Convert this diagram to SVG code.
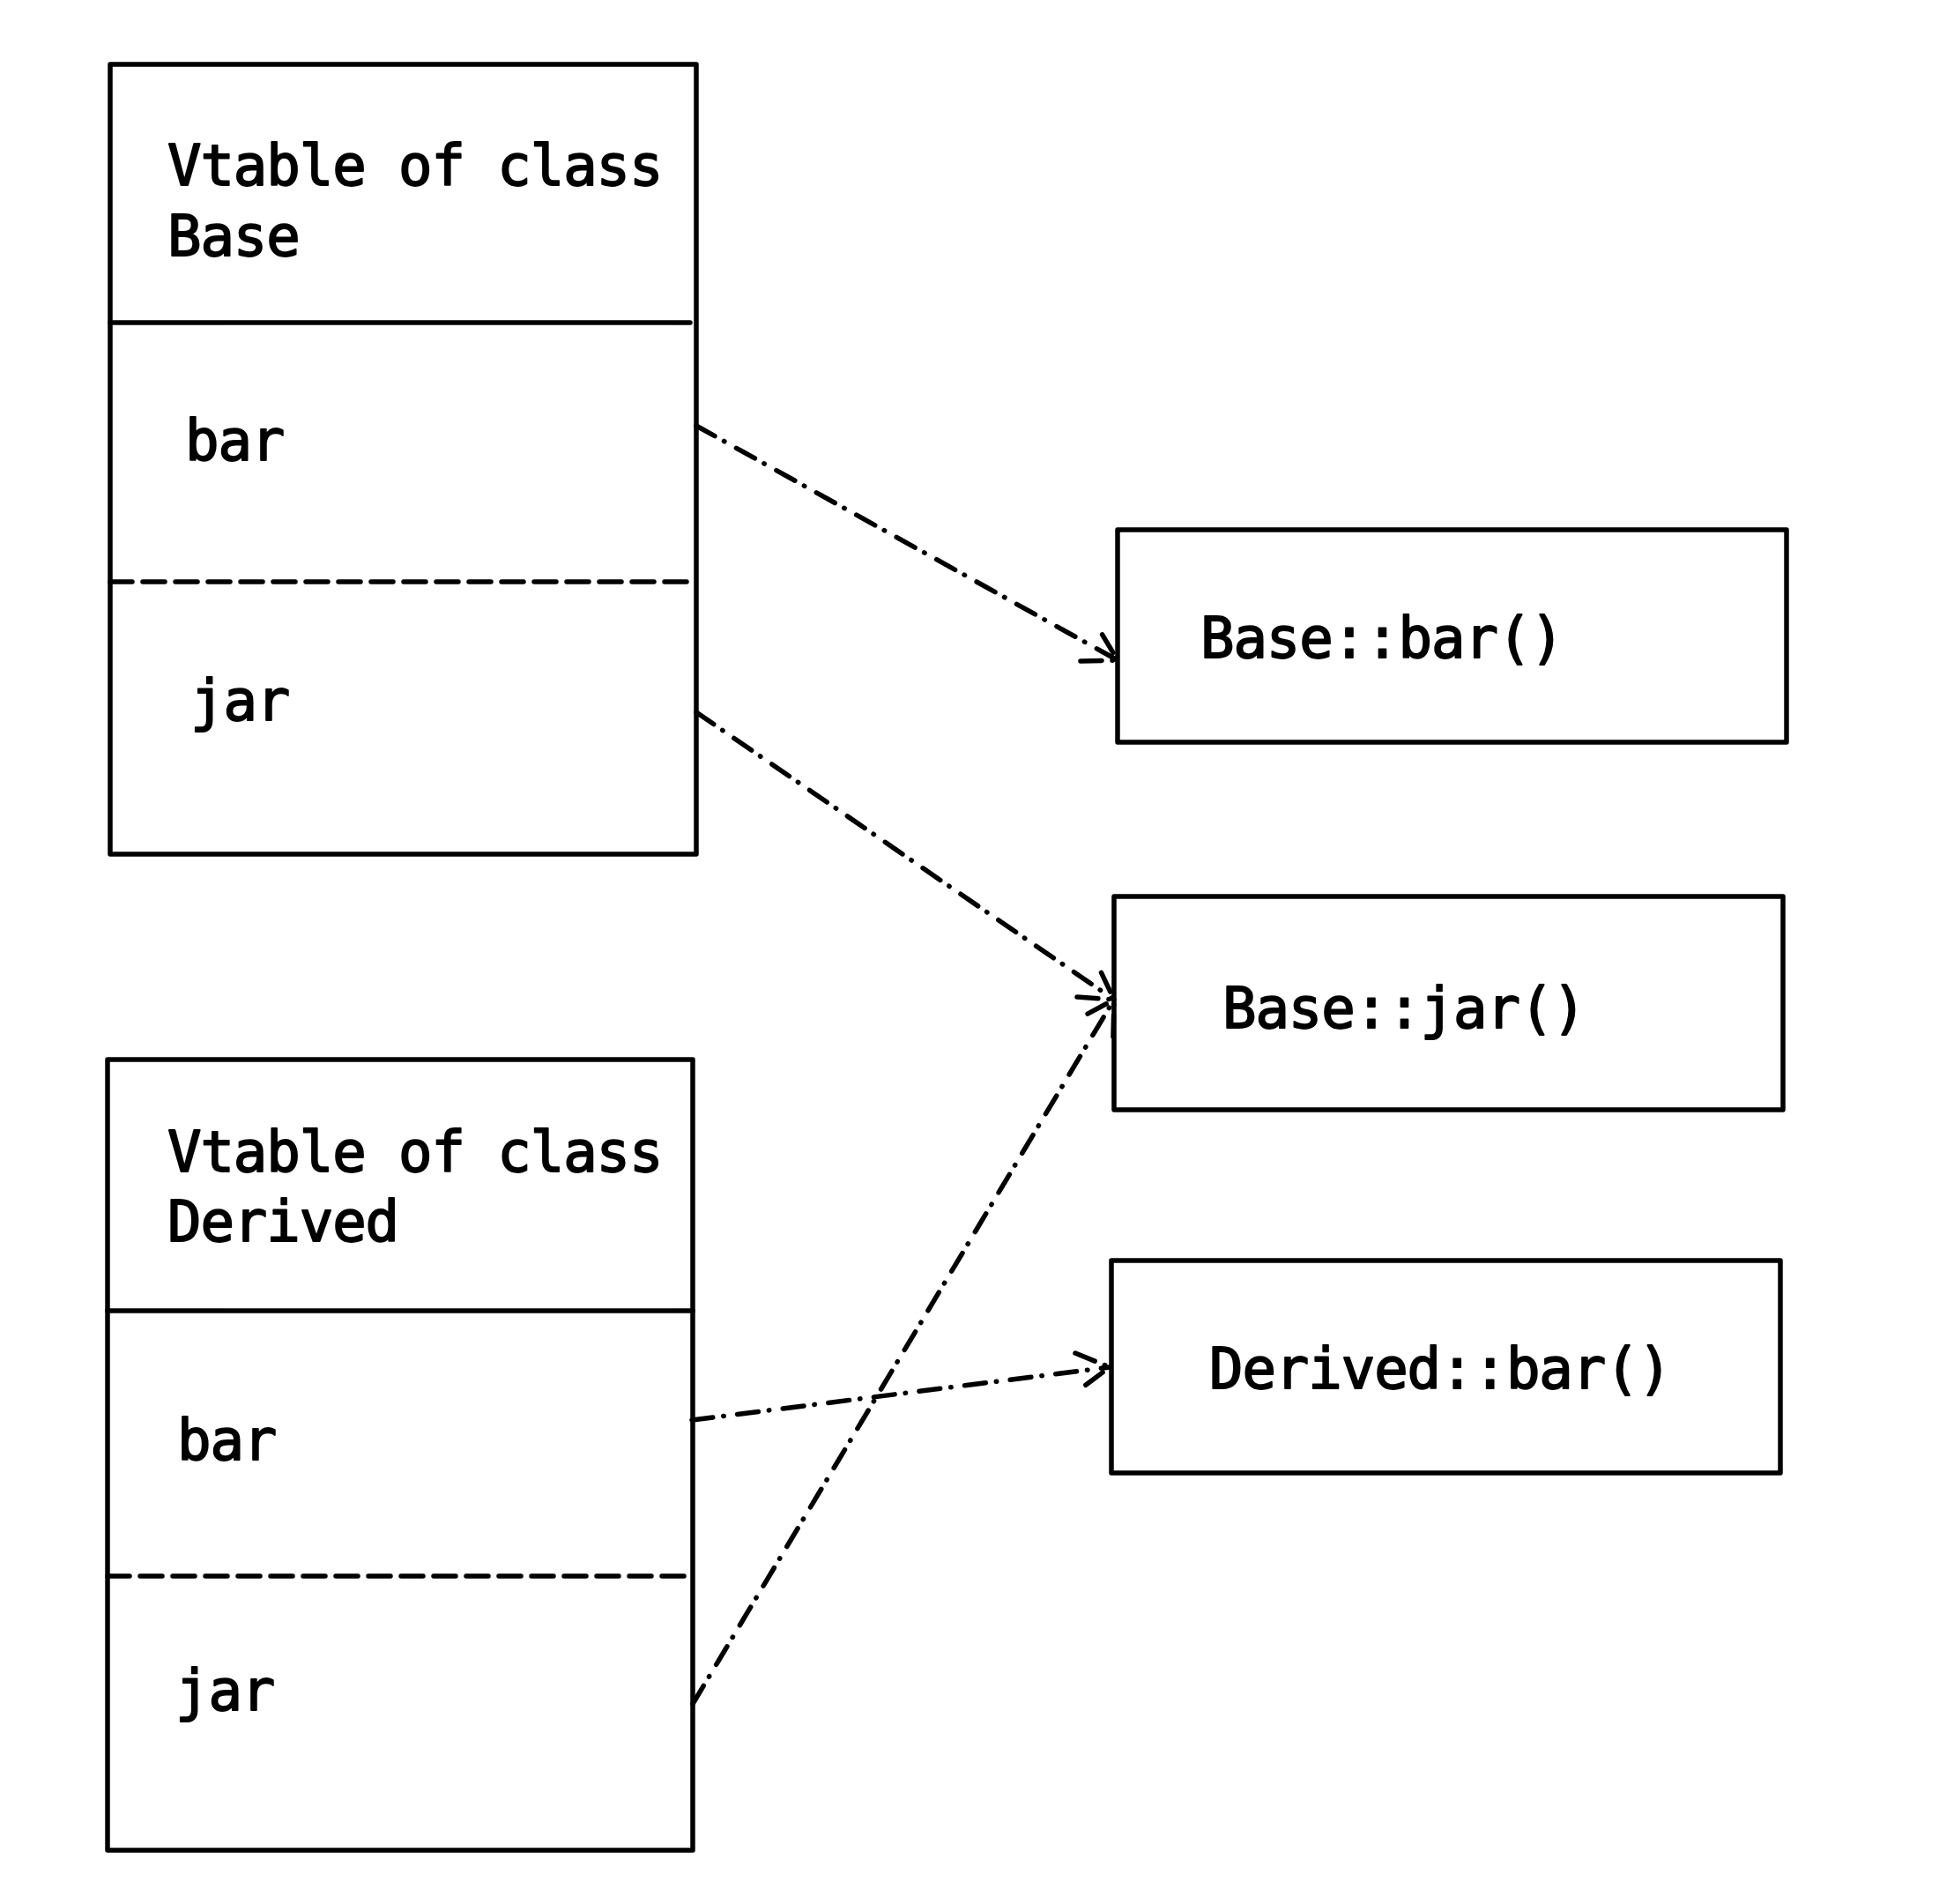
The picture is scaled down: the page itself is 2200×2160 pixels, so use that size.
<svg xmlns="http://www.w3.org/2000/svg" width="2200" height="2160" viewBox="0 0 2200 2160">
<style>
.box{fill:#fff;stroke:#000;stroke-width:5.5;stroke-linejoin:round}
.sep{stroke:#000;stroke-width:5.5;stroke-linecap:round;fill:none}
.dsep{stroke:#000;stroke-width:5.5;stroke-linecap:round;stroke-dasharray:25 12;fill:none}
.t{font-family:"DejaVu Sans Mono","Liberation Mono",monospace;font-size:64px;letter-spacing:-1.1px;fill:#000;stroke:#000;stroke-width:1.8;stroke-linejoin:round}
.conn{stroke:#000;stroke-width:5.5;stroke-linecap:round;stroke-linejoin:round;fill:none;stroke-dasharray:24 12 0.5 15.5}
</style>
<rect width="2200" height="2160" fill="#fff"/>
<g id="vtable-base">
<rect class="box" x="125" y="73" width="665" height="896"/>
<line class="sep" x1="125" y1="366" x2="783" y2="366"/>
<line class="dsep" x1="125" y1="660" x2="790" y2="660"/>
<text class="t" x="190" y="210">Vtable of class</text>
<text class="t" x="190" y="290">Base</text>
<text class="t" x="210" y="522">bar</text>
<text class="t" x="216" y="817">jar</text>
</g>
<g id="vtable-derived">
<rect class="box" x="122" y="1202" width="664" height="897"/>
<line class="sep" x1="122" y1="1487" x2="786" y2="1487"/>
<line class="dsep" x1="122" y1="1788" x2="786" y2="1788"/>
<text class="t" x="190" y="1329">Vtable of class</text>
<text class="t" x="190" y="1408">Derived</text>
<text class="t" x="201" y="1656">bar</text>
<text class="t" x="199" y="1940">jar</text>
</g>
<g id="base-bar">
<rect class="box" x="1268" y="601" width="759" height="241"/>
<text class="t" x="1362" y="746">Base::bar()</text>
</g>
<g id="base-jar">
<rect class="box" x="1264" y="1017" width="759" height="242"/>
<text class="t" x="1387" y="1166">Base::jar()</text>
</g>
<g id="derived-bar">
<rect class="box" x="1261" y="1430" width="759" height="241"/>
<text class="t" x="1372" y="1575">Derived::bar()</text>
</g>
<g id="connectors">
<path class="conn" d="M790,483 L1268,749"/>
<path class="conn" d="M1226,750 L1268,749 L1246.5,713"/>
<path class="conn" d="M790,808 L1264,1134"/>
<path class="conn" d="M1222,1131 L1264,1134 L1246,1096"/>
<path class="conn" d="M786,1933 L1264,1134"/>
<path class="conn" d="M1263,1176 L1264,1134 L1227,1154"/>
<path class="conn" d="M785,1611 L1259,1551"/>
<path class="conn" d="M1220,1535 L1259,1551 L1225.5,1576"/>
</g>
</svg>
